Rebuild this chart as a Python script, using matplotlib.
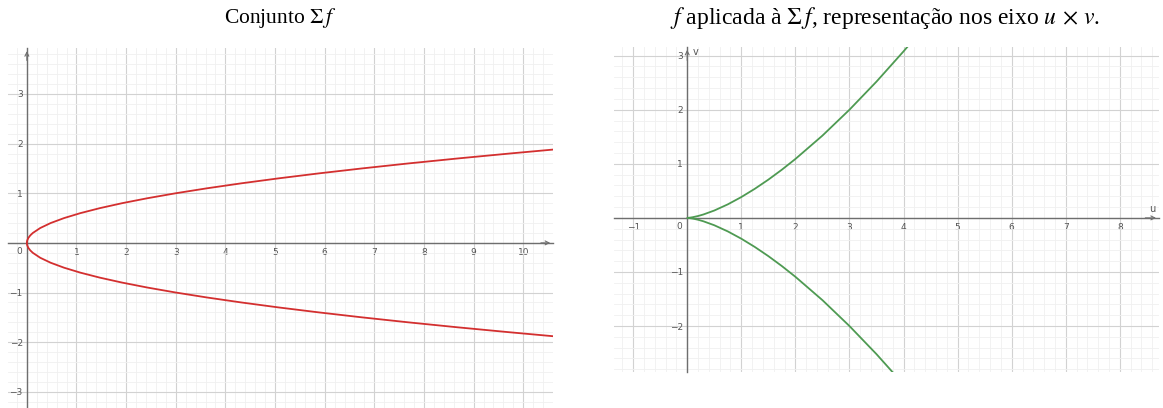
import matplotlib
matplotlib.use("Agg")
import matplotlib.pyplot as plt
import numpy as np
from matplotlib.ticker import MultipleLocator, FuncFormatter

plt.rcParams['mathtext.fontset'] = 'stix'

# parabola Sigma f (x against y), sampled along the curve
sigma_y = [-1.88, -1.8, -1.7, -1.6, -1.5, -1.4, -1.3, -1.2, -1.1, -1.0, -0.9, -0.8,
           -0.7, -0.6, -0.5, -0.4, -0.3, -0.2, -0.15, -0.1, -0.05, -0.025, 0.0,
           0.025, 0.05, 0.1, 0.15, 0.2, 0.3, 0.4, 0.5, 0.6, 0.7, 0.8, 0.9, 1.0,
           1.1, 1.2, 1.3, 1.4, 1.5, 1.6, 1.7, 1.8, 1.88]
sigma_x = [10.6, 9.72, 8.67, 7.68, 6.75, 5.88, 5.07, 4.32, 3.63, 3.0, 2.43, 1.92,
           1.47, 1.08, 0.75, 0.48, 0.27, 0.12, 0.0675, 0.03, 0.0075, 0.0019, 0.0,
           0.0019, 0.0075, 0.03, 0.0675, 0.12, 0.27, 0.48, 0.75, 1.08, 1.47, 1.92,
           2.43, 3.0, 3.63, 4.32, 5.07, 5.88, 6.75, 7.68, 8.67, 9.72, 10.6]

# image of Sigma f in the (u, v) plane: cusp
cusp_u = [4.2, 4.0, 3.5, 3.0, 2.5, 2.0, 1.75, 1.5, 1.25, 1.0, 0.75, 0.5, 0.3, 0.2,
          0.1, 0.05, 0.0, 0.05, 0.1, 0.2, 0.3, 0.5, 0.75, 1.0, 1.25, 1.5, 1.75,
          2.0, 2.5, 3.0, 3.5, 4.0, 4.2]
cusp_v = [-3.313, -3.079, -2.52, -2.0, -1.521, -1.089, -0.891, -0.707, -0.538,
          -0.385, -0.25, -0.136, -0.0632, -0.0344, -0.0122, -0.0043, 0.0, 0.0043,
          0.0122, 0.0344, 0.0632, 0.136, 0.25, 0.385, 0.538, 0.707, 0.891, 1.089,
          1.521, 2.0, 2.52, 3.079, 3.313]

left_xticks = [1, 2, 3, 4, 5, 6, 7, 8, 9, 10]
left_yticks = [-3, -2, -1, 1, 2, 3]
right_xticks = [-1, 1, 2, 3, 4, 5, 6, 7, 8]
right_yticks = [-2, -1, 1, 2, 3]

AXIS_COL = '#6e6e6e'
LABEL_COL = '#555555'


def fmt(v, pos):
    if v == 0:
        return ''
    return str(int(v)).replace('-', '\u2212')


def geogebra_axes(ax, xlim, ylim, xticks, yticks):
    ax.set_xlim(*xlim)
    ax.set_ylim(*ylim)
    ax.set_aspect('equal')
    for s in ('top', 'right'):
        ax.spines[s].set_visible(False)
    for s in ('left', 'bottom'):
        ax.spines[s].set_position('zero')
        ax.spines[s].set_color(AXIS_COL)
        ax.spines[s].set_linewidth(1.0)
        ax.spines[s].set_zorder(3)
    ax.set_xticks(xticks)
    ax.set_yticks(yticks)
    ax.xaxis.set_minor_locator(MultipleLocator(0.2))
    ax.yaxis.set_minor_locator(MultipleLocator(0.2))
    ax.xaxis.set_major_formatter(FuncFormatter(fmt))
    ax.yaxis.set_major_formatter(FuncFormatter(fmt))
    ax.tick_params(which='both', length=0, labelsize=6.5, labelcolor=LABEL_COL)
    ax.tick_params(axis='x', pad=4)
    ax.tick_params(axis='y', pad=3)
    # integer grid lines, including those not labelled
    ax.xaxis.set_major_locator(MultipleLocator(1))
    ax.yaxis.set_major_locator(MultipleLocator(1))
    ax.grid(which='major', color='#d2d2d2', lw=0.8, zorder=0)
    ax.grid(which='minor', color='#f0f0f0', lw=0.6, zorder=0)
    ax.set_axisbelow(True)
    ax.text(-0.1, -0.08, '0', fontsize=6.5, color=LABEL_COL, ha='right', va='top')
    # arrow heads at the ends of both axes
    ax.annotate('', xy=(xlim[1], 0), xytext=(xlim[1] - 0.3, 0),
                arrowprops=dict(arrowstyle='->', color=AXIS_COL, lw=0.8,
                                mutation_scale=7), zorder=4)
    ax.annotate('', xy=(0, ylim[1]), xytext=(0, ylim[1] - 0.3),
                arrowprops=dict(arrowstyle='->', color=AXIS_COL, lw=0.8,
                                mutation_scale=7), zorder=4)


fig = plt.figure(figsize=(11.63, 4.08), dpi=100)

ax1 = fig.add_axes([8 / 1163, 0.0, 545 / 1163, 360 / 408])
geogebra_axes(ax1, (-0.38, 10.6), (-3.32, 3.92), left_xticks, left_yticks)
ax1.plot(sigma_x, sigma_y, color='#d32f2f', lw=1.3, zorder=5, clip_on=True)

ax2 = fig.add_axes([614 / 1163, 36 / 408, 545 / 1163, 325 / 408])
geogebra_axes(ax2, (-1.35, 8.72), (-2.85, 3.16), right_xticks, right_yticks)
ax2.plot(cusp_u, cusp_v, color='#4e9a52', lw=1.3, zorder=5)
ax2.text(8.6, 0.08, 'u', fontsize=7, color=LABEL_COL, ha='center', va='bottom')
ax2.text(0.1, 3.07, 'v', fontsize=7, color=LABEL_COL, ha='left', va='center')

fig.text(280 / 1163, 1 - 18 / 408, r'Conjunto $\Sigma\,f$', family='Liberation Serif',
         fontsize=15.5, ha='center', va='center')
fig.text(885 / 1163, 1 - 18 / 408,
         r'$f$ aplicada à $\Sigma\,f$, representação nos eixo $u\,\times\,v$.',
         family='Liberation Serif', fontsize=17, ha='center', va='center')

fig.savefig('out.png', dpi=100)
